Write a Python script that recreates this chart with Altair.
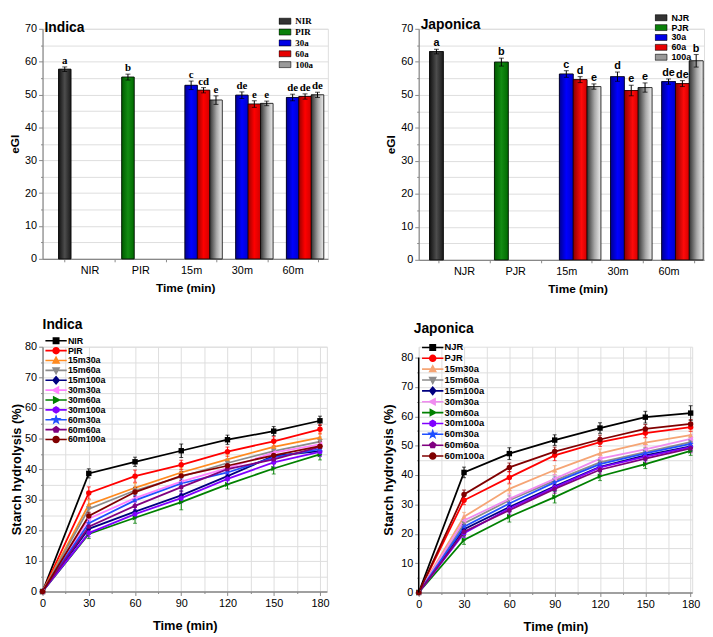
import altair as alt
import pandas as pd

# ---------------- eGI bar data ----------------
ind_cats = ["NIR", "PIR", "15m", "30m", "60m"]
ind_series = ["NIR", "PIR", "30a", "60a", "100a"]
ind_bar_cat = ["NIR", "PIR", "15m", "15m", "15m", "30m", "30m", "30m", "60m", "60m", "60m"]
ind_bar_ser = ["NIR", "PIR", "30a", "60a", "100a", "30a", "60a", "100a", "30a", "60a", "100a"]
ind_egi = [57.7, 55.3, 52.8, 51.3, 48.3, 49.8, 47.1, 47.3, 49.1, 49.4, 49.9]
ind_egi_err = [0.7, 0.9, 1.3, 0.8, 1.3, 1.0, 1.0, 0.7, 1.0, 0.8, 0.8]
ind_letters = ["a", "b", "c", "cd", "e", "de", "e", "e", "de", "de", "de"]

jap_cats = ["NJR", "PJR", "15m", "30m", "60m"]
jap_series = ["NJR", "PJR", "30a", "60a", "100a"]
jap_bar_cat = ["NJR", "PJR", "15m", "15m", "15m", "30m", "30m", "30m", "60m", "60m", "60m"]
jap_bar_ser = ["NJR", "PJR", "30a", "60a", "100a", "30a", "60a", "100a", "30a", "60a", "100a"]
jap_egi = [63.1, 59.9, 56.3, 54.6, 52.5, 55.5, 51.3, 52.2, 54.0, 53.4, 60.3]
jap_egi_err = [0.7, 1.2, 1.0, 0.9, 0.8, 1.4, 1.6, 1.4, 0.8, 0.9, 1.9]
jap_letters = ["a", "b", "c", "d", "e", "d", "e", "e", "de", "de", "b"]

# ---------------- hydrolysis data ----------------
times = [0, 30, 60, 90, 120, 150, 180]

ind_names = ["NIR", "PIR", "15m30a", "15m60a", "15m100a", "30m30a", "30m60a",
             "30m100a", "60m30a", "60m60a", "60m100a"]
ind_NIR = [0, 38.6, 42.4, 46.0, 49.6, 52.4, 55.8]
ind_PIR = [0, 32.2, 37.7, 41.4, 45.7, 49.1, 53.0]
ind_15m30a = [0, 28.4, 33.9, 38.9, 43.2, 47.3, 50.3]
ind_15m60a = [0, 27.0, 33.0, 37.5, 42.0, 45.9, 49.0]
ind_15m100a = [0, 20.5, 26.1, 31.4, 37.7, 44.3, 45.9]
ind_30m30a = [0, 23.8, 30.5, 35.9, 40.3, 45.4, 48.1]
ind_30m60a = [0, 18.8, 24.1, 29.2, 35.0, 40.2, 44.8]
ind_30m100a = [0, 19.1, 25.3, 30.5, 36.8, 42.2, 45.6]
ind_60m30a = [0, 22.3, 29.8, 35.3, 38.9, 43.8, 46.5]
ind_60m60a = [0, 21.2, 28.0, 34.1, 40.0, 43.2, 47.3]
ind_60m100a = [0, 24.7, 32.5, 37.8, 41.1, 44.5, 47.5]
ind_vals = [ind_NIR, ind_PIR, ind_15m30a, ind_15m60a, ind_15m100a, ind_30m30a,
            ind_30m60a, ind_30m100a, ind_60m30a, ind_60m60a, ind_60m100a]
ind_err_NIR = [0, 1.5, 1.5, 2.2, 1.5, 1.5, 1.5]
ind_err_PIR = [0, 2.0, 2.0, 1.5, 1.5, 1.5, 1.5]
ind_err_15m30a = [0, 1.5, 1.5, 1.5, 1.5, 1.5, 1.5]
ind_err_15m60a = [0, 1.5, 1.2, 1.5, 1.5, 1.5, 1.5]
ind_err_15m100a = [0, 1.2, 1.5, 1.5, 1.5, 1.5, 1.5]
ind_err_30m30a = [0, 1.5, 1.5, 1.5, 1.5, 1.5, 1.5]
ind_err_30m60a = [0, 1.5, 1.8, 2.5, 1.5, 1.8, 1.8]
ind_err_30m100a = [0, 1.2, 1.5, 1.5, 1.5, 1.5, 1.5]
ind_err_60m30a = [0, 1.2, 1.5, 1.5, 1.5, 1.5, 1.5]
ind_err_60m60a = [0, 1.2, 1.5, 1.5, 1.5, 1.5, 1.5]
ind_err_60m100a = [0, 1.2, 1.5, 1.5, 1.5, 1.5, 1.5]
ind_errs = [ind_err_NIR, ind_err_PIR, ind_err_15m30a, ind_err_15m60a, ind_err_15m100a,
            ind_err_30m30a, ind_err_30m60a, ind_err_30m100a, ind_err_60m30a,
            ind_err_60m60a, ind_err_60m100a]

jap_names = ["NJR", "PJR", "15m30a", "15m60a", "15m100a", "30m30a", "30m60a",
             "30m100a", "60m30a", "60m60a", "60m100a"]
jap_NJR = [0, 40.9, 47.3, 51.9, 56.0, 59.7, 61.1]
jap_PJR = [0, 31.4, 39.2, 46.7, 51.2, 54.3, 56.3]
jap_15m30a = [0, 25.8, 35.3, 41.7, 47.4, 51.0, 53.6]
jap_15m60a = [0, 23.5, 31.4, 38.1, 44.3, 47.8, 51.2]
jap_15m100a = [0, 21.6, 29.1, 36.2, 42.8, 46.7, 49.8]
jap_30m30a = [0, 24.5, 31.9, 38.7, 45.6, 48.7, 52.3]
jap_30m60a = [0, 17.9, 25.8, 32.5, 39.6, 43.7, 48.2]
jap_30m100a = [0, 20.2, 28.6, 35.8, 42.6, 46.3, 49.5]
jap_60m30a = [0, 22.4, 30.3, 37.5, 43.7, 47.4, 50.6]
jap_60m60a = [0, 20.7, 28.0, 35.3, 41.8, 45.6, 49.1]
jap_60m100a = [0, 33.4, 42.6, 48.0, 52.1, 55.7, 57.4]
jap_vals = [jap_NJR, jap_PJR, jap_15m30a, jap_15m60a, jap_15m100a, jap_30m30a,
            jap_30m60a, jap_30m100a, jap_60m30a, jap_60m60a, jap_60m100a]
jap_err_NJR = [0, 1.8, 2.0, 1.8, 1.8, 2.0, 2.5]
jap_err_PJR = [0, 1.5, 2.0, 1.8, 1.5, 1.5, 1.5]
jap_err_15m30a = [0, 1.5, 1.5, 1.5, 1.5, 1.5, 1.5]
jap_err_15m60a = [0, 1.5, 1.5, 1.5, 1.5, 1.5, 1.5]
jap_err_15m100a = [0, 1.5, 1.5, 1.5, 1.5, 1.5, 1.5]
jap_err_30m30a = [0, 1.5, 1.5, 1.5, 1.5, 1.5, 1.5]
jap_err_30m60a = [0, 1.5, 1.8, 2.0, 1.5, 1.5, 1.5]
jap_err_30m100a = [0, 1.5, 1.5, 1.5, 1.5, 1.5, 1.5]
jap_err_60m30a = [0, 1.5, 1.5, 1.5, 1.5, 1.5, 1.5]
jap_err_60m60a = [0, 1.5, 1.5, 1.5, 1.5, 1.5, 1.5]
jap_err_60m100a = [0, 1.5, 1.5, 1.5, 1.5, 1.5, 1.5]
jap_errs = [jap_err_NJR, jap_err_PJR, jap_err_15m30a, jap_err_15m60a, jap_err_15m100a,
            jap_err_30m30a, jap_err_30m60a, jap_err_30m100a, jap_err_60m30a,
            jap_err_60m60a, jap_err_60m100a]

# ---------------- styles ----------------
SANS = "Liberation Sans"
SERIF = "Liberation Serif"


def grad(c0, c1, c2, mid=0.5):
    return {"gradient": "linear", "x1": 0, "x2": 1, "y1": 0, "y2": 0,
            "stops": [{"offset": 0, "color": c0}, {"offset": mid, "color": c1},
                      {"offset": 1, "color": c2}]}


bar_grads_ind = [grad("#111111", "#4d4d4d", "#1a1a1a"), grad("#005a00", "#138c13", "#006a00"),
                 grad("#000090", "#0000ff", "#0000cc"), grad("#9a0000", "#ff0000", "#d00000"),
                 grad("#333333", "#a8a8a8", "#ececec", 0.55)]
bar_grads_jap = [grad("#111111", "#4d4d4d", "#1a1a1a"), grad("#005a00", "#138c13", "#006a00"),
                 grad("#000090", "#0000ff", "#0000cc"), grad("#8a0000", "#ff0a0a", "#d00000", 0.6),
                 grad("#333333", "#a8a8a8", "#ececec", 0.55)]
bar_solid = ["#333333", "#0a800a", "#0000e6", "#e60000", "#9a9a9a"]

ind_colors = ["#000000", "#ff0000", "#ff8a1f", "#8c8c8c", "#000080", "#ff80ff",
              "#008000", "#8000ff", "#1f4fff", "#800080", "#800000"]
jap_colors = ["#000000", "#ff0000", "#f5a575", "#8c8c8c", "#000080", "#f08cf0",
              "#008000", "#8000ff", "#1f4fff", "#800080", "#800000"]

# marker outlines (unit scale) used for the plotted points and the legend keys
HEX_PTS = [(0, -1), (0.87, -0.5), (0.87, 0.5), (0, 1), (-0.87, 0.5), (-0.87, -0.5)]
STAR_PTS = [(0, -1.15), (0.27, -0.37), (1.09, -0.36), (0.44, 0.14), (0.68, 0.93), (0, 0.46),
            (-0.68, 0.93), (-0.44, 0.14), (-1.09, -0.36), (-0.27, -0.37)]
PENT_PTS = [(0, -1), (0.95, -0.31), (0.59, 0.81), (-0.59, 0.81), (-0.95, -0.31)]
marker_polys = [
    [(-0.9, -0.9), (0.9, -0.9), (0.9, 0.9), (-0.9, 0.9)],
    "circle",
    [(0, -1.1), (1, 0.8), (-1, 0.8)],
    [(0, 1.1), (1, -0.8), (-1, -0.8)],
    [(0, -1.2), (1, 0), (0, 1.2), (-1, 0)],
    [(-1.1, 0), (0.8, -1), (0.8, 1)],
    [(1.1, 0), (-0.8, -1), (-0.8, 1)],
    HEX_PTS, STAR_PTS, PENT_PTS, "circle",
]


def poly_path(pts, k=1.0):
    if pts == "circle":
        r = round(k, 4)
        return f"M{-r},0A{r},{r},0,1,0,{r},0A{r},{r},0,1,0,{-r},0Z"
    s = "M" + "L".join(f"{round(x * k, 4)},{round(y * k, 4)}" for x, y in pts)
    return s + "Z"


plain_shapes = ["square", "circle", "triangle-up", "triangle-down", "diamond",
                "triangle-left", "triangle-right", poly_path(HEX_PTS), poly_path(STAR_PTS),
                poly_path(PENT_PTS), "circle"]
LEG_K = 0.278  # marker half-size relative to the half-length of the key line
legend_shapes = ["M-1,0H1" + poly_path(p, LEG_K) for p in marker_polys]


def minor_ticks(step, major, small):
    return {"condition": {"test": f"datum.value % {step} !== 0", "value": small},
            "value": major}


def bar_panel(cats, series, cat_col, ser_col, vals, errs, letters, grads, title,
              width, height, pad_outer, align, sub_lo, sub_hi, leg_x, leg_y,
              leg_font, leg_size, leg_row, letter_font, title_offset, title_dx, title_dy,
              xtitle_x=None):
    df = pd.DataFrame({"cat": cat_col, "series": ser_col, "value": vals,
                       "err": errs, "letter": letters})
    df["lo"] = df["value"] - df["err"]
    df["hi"] = df["value"] + df["err"]
    step = width / (len(cats) + 2 * pad_outer)
    xaxis_kw = dict(tickBand="extent", labelAngle=0, labelFontSize=11, tickSize=3,
                    labelPadding=3, titleFontSize=12, titlePadding=7, domainWidth=1.2)
    if xtitle_x is not None:
        xaxis_kw["titleX"] = xtitle_x
    x = alt.X("cat:N", sort=cats, title="Time (min)",
              scale=alt.Scale(domain=cats, paddingInner=0, paddingOuter=pad_outer, align=align),
              axis=alt.Axis(**xaxis_kw))
    xo = alt.XOffset("series:N", sort=series,
                     scale=alt.Scale(domain=series, range=[sub_lo * step, sub_hi * step],
                                     paddingInner=0, paddingOuter=0))
    yax = alt.Axis(values=list(range(0, 71, 5)),
                   labelExpr="datum.value % 10 === 0 ? datum.label : ''",
                   tickSize=minor_ticks(10, 4, 2), labelFontSize=11, labelPadding=2,
                   titleFontSize=12, titlePadding=3, domainWidth=1.2, labelOverlap=False,
                   labelFlush=False)
    ysc = alt.Scale(domain=[0, 70], nice=False)

    def Y(f):
        return alt.Y(f"{f}:Q", scale=ysc, axis=yax, title="eGI")

    base = alt.Chart(df)
    layers = [base.mark_bar(stroke="black", strokeWidth=0.6).encode(
        x=x, xOffset=xo, y=Y("value"),
        color=alt.Color("series:N", scale=alt.Scale(domain=series, range=bar_solid),
                        legend=alt.Legend(title=None, orient="none", legendX=leg_x, legendY=leg_y,
                                          symbolType="M-1,-0.5H1V0.5H-1Z", symbolSize=144,
                                          symbolStrokeColor="black", symbolStrokeWidth=0.6,
                                          labelFont=leg_font, labelFontSize=leg_size,
                                          labelFontWeight="bold", labelColor="black",
                                          clipHeight=leg_row, rowPadding=0, labelOffset=4,
                                          padding=0)))]
    for s, g in zip(series, grads):
        layers.append(base.transform_filter(alt.datum.series == s)
                      .mark_bar(fill=g, stroke="black", strokeWidth=0.6)
                      .encode(x=x, xOffset=xo, y=Y("value")))
    layers.append(base.mark_rule(color="black", strokeWidth=1).encode(
        x=x, xOffset=xo, y=Y("lo"), y2="hi:Q"))
    for f in ["lo", "hi"]:
        layers.append(base.mark_tick(color="black", thickness=1, size=5, orient="horizontal")
                      .encode(x=x, xOffset=xo, y=Y(f)))
    layers.append(base.mark_text(font=letter_font, fontSize=11, fontWeight="bold",
                                 baseline="bottom", dy=-1, color="black")
                  .encode(x=x, xOffset=xo, y=Y("hi"), text="letter:N"))
    return alt.layer(*layers).properties(
        width=width, height=height,
        title=alt.TitleParams(title, anchor="start", frame="group", font=SANS, fontSize=14,
                              fontWeight="bold", color="black", offset=title_offset,
                              dx=title_dx, dy=title_dy))


def line_panel(names, vals_list, errs_list, colors, title, width, height, xmax, ymax,
               leg_x, leg_y, leg_size, leg_row, ytitle_pad, title_offset, title_dx,
               title_dy, own_domain=False):
    rows = []
    for n, vals, errs in zip(names, vals_list, errs_list):
        for t, v, e in zip(times, vals, errs):
            rows.append({"series": n, "time": t, "value": v, "lo": v - e, "hi": v + e})
    df = pd.DataFrame(rows)
    xsc = alt.Scale(domain=[0, xmax], nice=False, zero=False)
    xax = alt.Axis(values=list(range(0, 181, 15)),
                   labelExpr="datum.value % 30 === 0 ? datum.label : ''",
                   tickSize=minor_ticks(30, 4, 2), labelFontSize=11, labelPadding=2,
                   titleFontSize=13, titlePadding=11, domainWidth=1.5, labelFlush=False,
                   labelOverlap=False)
    ysc = alt.Scale(domain=[0, ymax], nice=False)
    yax = alt.Axis(values=list(range(0, 81, 5)),
                   labelExpr="datum.value % 10 === 0 ? datum.label : ''",
                   tickSize=minor_ticks(10, 4, 2), labelFontSize=11, labelPadding=2,
                   titleFontSize=13, titlePadding=ytitle_pad, domainWidth=1.5,
                   labelOverlap=False, labelFlush=False, domain=not own_domain)
    X = alt.X("time:Q", scale=xsc, axis=xax, title="Time (min)")

    def Y(f):
        return alt.Y(f"{f}:Q", scale=ysc, axis=yax, title="Starch hydrolysis (%)")

    def C(leg=None):
        return alt.Color("series:N", scale=alt.Scale(domain=names, range=colors), legend=leg)

    base = alt.Chart(df)
    err = base.transform_filter("datum.time > 0")
    leg = alt.Legend(title=None, orient="none", legendX=leg_x, legendY=leg_y,
                     symbolSize=467, symbolStrokeWidth=1.6, symbolOpacity=1,
                     labelFont=SANS, labelFontSize=leg_size, labelFontWeight="bold",
                     labelColor="black", clipHeight=leg_row, rowPadding=0, labelOffset=0,
                     padding=0)
    layers = [
        base.mark_line(strokeWidth=1.8).encode(x=X, y=Y("value"), color=C(), detail="series:N"),
        err.mark_rule(strokeWidth=1).encode(x=X, y=Y("lo"), y2="hi:Q", color=C()),
        err.mark_tick(orient="horizontal", size=4, thickness=1).encode(x=X, y=Y("lo"), color=C()),
        err.mark_tick(orient="horizontal", size=4, thickness=1).encode(x=X, y=Y("hi"), color=C()),
        base.mark_point(filled=True, size=30, opacity=1).encode(
            x=X, y=Y("value"), color=C(),
            shape=alt.Shape("series:N", scale=alt.Scale(domain=names, range=plain_shapes),
                            legend=None)),
        base.transform_filter("false").mark_point(filled=True, opacity=1, strokeWidth=1.6).encode(
            x=X, y=Y("value"), color=C(leg),
            stroke=alt.Stroke("series:N", scale=alt.Scale(domain=names, range=colors), legend=leg),
            shape=alt.Shape("series:N", scale=alt.Scale(domain=names, range=legend_shapes),
                            legend=leg)),
    ]
    if own_domain:
        layers.append(alt.Chart(pd.DataFrame({"series": ["axis"]})).mark_rule(
            color="black", strokeWidth=1.5).encode(
            x=alt.X(datum=0, scale=xsc, axis=xax, title="Time (min)"),
            y=alt.Y(datum=0, scale=ysc, axis=yax, title="Starch hydrolysis (%)"),
            y2=alt.Y2(datum=80)))
    return alt.layer(*layers).resolve_scale(
        color="independent", shape="independent", stroke="independent").properties(
        width=width, height=height,
        title=alt.TitleParams(title, anchor="start", frame="group", font=SANS, fontSize=14,
                              fontWeight="bold", color="black", offset=title_offset,
                              dx=title_dx, dy=title_dy))


tl = bar_panel(ind_cats, ind_series, ind_bar_cat, ind_bar_ser, ind_egi, ind_egi_err,
               ind_letters, bar_grads_ind, "Indica", 289, 233, 0.311, 0.6875, -0.1125, 1.1125,
               239, -13, SERIF, 9, 10.6, SERIF, -3, 2, 16.5)
tr = bar_panel(jap_cats, jap_series, jap_bar_cat, jap_bar_ser, jap_egi, jap_egi_err,
               jap_letters, bar_grads_jap, "Japonica", 289, 234, 0.29, 0.667, -0.175, 1.175,
               239, -16, SANS, 9, 9.6, SANS, -1, 2, 18, xtitle_x=161)
bl = line_panel(ind_names, ind_vals, ind_errs, ind_colors, "Indica", 288, 248, 184.5, 80,
                1.7, -11, 9, 10, 1, 5, 0, 1.5)
br = line_panel(jap_names, jap_vals, jap_errs, jap_colors, "Japonica", 277, 249, 181, 83.7,
                2.2, -4.6, 9.5, 10.7, 5, 5, -5, -1, own_domain=True)

chart = alt.concat(tl, tr, bl, br, columns=2, spacing={"row": 88, "column": 92},
                   bounds="flush").resolve_scale(
    color="independent", shape="independent", stroke="independent", xOffset="independent",
    x="independent", y="independent").properties(padding=0).configure_view(
    stroke=None).configure_axis(
    domainColor="black", tickColor="black", labelColor="black", titleColor="black",
    grid=False, labelFont=SANS, titleFont=SANS, labelFontWeight="bold",
    titleFontWeight="bold", tickWidth=1).configure(background="white")

chart.save("out.html", embed_options={"renderer": "svg", "actions": False})
